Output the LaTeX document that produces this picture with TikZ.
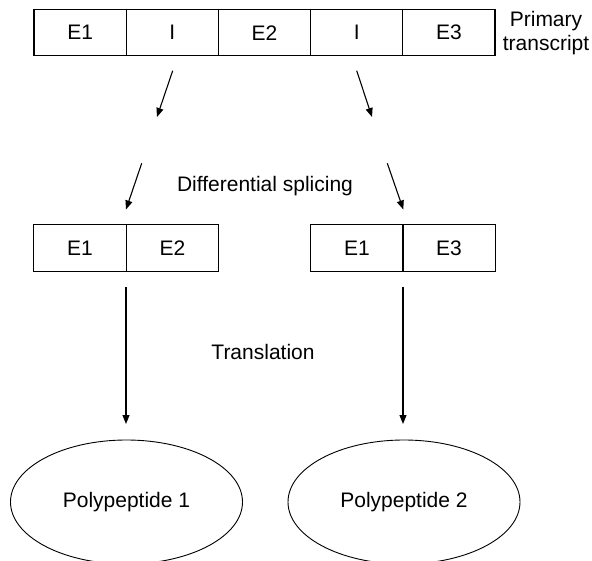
\documentclass[tikz,border=0pt]{standalone}
\usepackage{fontspec}
\setmainfont{Liberation Sans}
\usetikzlibrary{shapes.geometric,arrows.meta}
\begin{document}
\begin{tikzpicture}[x=1pt,y=-1pt,
  every node/.style={font=\fontsize{21}{24}\selectfont},
  cell/.style={draw,line width=1.1pt,minimum width=92.2pt,minimum height=46.5pt,inner sep=0pt,anchor=center},
  oval/.style={draw,ellipse,line width=0.9pt,minimum width=232pt,minimum height=124pt,inner sep=0pt},
  arr/.style={line width=1.1pt,-{Triangle[length=9pt,width=7pt]}},
  lbl/.style={inner sep=0pt,align=center}]
\useasboundingbox (0,0) rectangle (592,561);
% primary transcript
\node[cell] (t1) at (80.1,32.7) {E1};
\node[cell] (t2) at (172.3,32.7) {I};
\node[cell] (t3) at (264.5,32.7) {E2};
\node[cell] (t4) at (356.7,32.7) {I};
\node[cell] (t5) at (448.9,32.7) {E3};
\node[lbl] (pt) at (546,33) {Primary\\transcript};
% arrow coordinates
\coordinate (a1s) at (172.7,70.7);
\coordinate (a1e) at (157,117);
\coordinate (a2s) at (356.7,70.7);
\coordinate (a2e) at (372,117);
\coordinate (b1s) at (141.7,163.3);
\coordinate (b1e) at (126,209.5);
\coordinate (b2s) at (387.3,163.3);
\coordinate (b2e) at (403.3,209.5);
\coordinate (c1s) at (126,287);
\coordinate (c1e) at (126,424);
\coordinate (c2s) at (403,287);
\coordinate (c2e) at (403,424);
\draw[arr] (a1s) -- (a1e);
\draw[arr] (a2s) -- (a2e);
\node[lbl] (ds) at (265,186) {Differential splicing};
\draw[arr] (b1s) -- (b1e);
\draw[arr] (b2s) -- (b2e);
% spliced mRNAs
\node[cell] (m1) at (80,248) {E1};
\node[cell] (m2) at (172.5,248) {E2};
\node[cell] (n1) at (357,248) {E1};
\node[cell] (n2) at (449,248) {E3};
\draw[arr] (c1s) -- (c1e);
\draw[arr] (c2s) -- (c2e);
\node[lbl] (tr) at (263,352) {Translation};
% polypeptides
\node[oval] (p1) at (126.5,502) {Polypeptide 1};
\node[oval] (p2) at (404,502) {Polypeptide 2};
\end{tikzpicture}
\end{document}
